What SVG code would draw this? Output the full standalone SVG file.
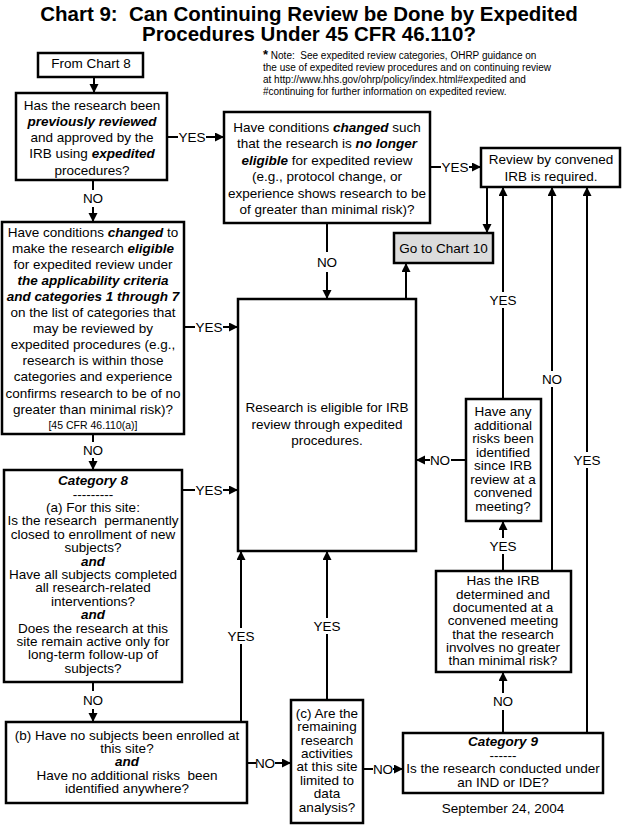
<svg xmlns="http://www.w3.org/2000/svg" width="623" height="825" viewBox="0 0 623 825">
<style>
text{font-family:"Liberation Sans",Arial,sans-serif;font-size:13.5px;fill:#000}
.c{text-anchor:middle}
.t{font-size:20.5px;font-weight:bold}
.bi{font-weight:bold;font-style:italic}
.sm{font-size:10.5px}
.note{font-size:10px}
.pre{white-space:pre}
.box{fill:#fff;stroke:#000;stroke-width:2.5}
.gray{fill:#dcdcdc;stroke:#000;stroke-width:2.5}
.ln{fill:none;stroke:#000;stroke-width:2}
.ar{fill:none;stroke:#000;stroke-width:2;marker-end:url(#ah)}
</style>
<defs>
<marker id="ah" markerUnits="userSpaceOnUse" markerWidth="10" markerHeight="10" refX="9" refY="4.5" orient="auto">
<path d="M0,0 L9,4.5 L0,9 Z" fill="#000"/>
</marker>
</defs>
<rect width="623" height="825" fill="#fff"/>
<text class="t c pre" x="309" y="21" xml:space="preserve">Chart 9:  Can Continuing Review be Done by Expedited</text>
<text class="t c" x="309" y="41">Procedures Under 45 CFR 46.110?</text>
<g id="note">
<text class="note pre" x="263" y="59" xml:space="preserve"><tspan font-size="13" font-weight="bold">*</tspan> Note:  See expedited review categories, OHRP guidance on</text>
<text class="note" x="263" y="71">the use of expedited review procedures and on continuing review</text>
<text class="note" x="263" y="83">at http://www.hhs.gov/ohrp/policy/index.html#expedited and</text>
<text class="note" x="263" y="95">#continuing for further information on expedited review.</text>
</g>
<g id="connectors">
<path class="ar" d="M94,77 V93"/>
<path class="ln" d="M93,180 V190"/><text class="c" x="93" y="203">NO</text><path class="ar" d="M93,207 V222"/>
<path class="ln" d="M167,137 H178"/><text class="c" x="192" y="142">YES</text><path class="ar" d="M206,137 H224"/>
<path class="ln" d="M327,223 V252"/><text class="c" x="327" y="267">NO</text><path class="ar" d="M327,272 V299"/>
<path class="ln" d="M430,167 H441"/><text class="c" x="455" y="172">YES</text><path class="ar" d="M469,167 H481"/>
<path class="ar" d="M487,187 V233"/>
<path class="ar" d="M406,299 V263"/>
<path class="ln" d="M184,327 H195"/><text class="c" x="209" y="332">YES</text><path class="ar" d="M223,327 H238"/>
<path class="ln" d="M93,434 V442"/><text class="c" x="93" y="455">NO</text><path class="ar" d="M93,458 V470"/>
<path class="ln" d="M182,490 H195"/><text class="c" x="209" y="495">YES</text><path class="ar" d="M223,490 H238"/>
<path class="ln" d="M93,682 V691"/><text class="c" x="93" y="705">NO</text><path class="ar" d="M93,709 V722"/>
<path class="ln" d="M241,722 V644"/><text class="c" x="241" y="641">YES</text><path class="ar" d="M241,628 V551"/>
<path class="ln" d="M247,763 H256"/><text class="c" x="265" y="768">NO</text><path class="ar" d="M275,763 H291"/>
<path class="ln" d="M327,700 V634"/><text class="c" x="327" y="631">YES</text><path class="ar" d="M327,618 V551"/>
<path class="ln" d="M363,769 H373"/><text class="c" x="383" y="774">NO</text><path class="ar" d="M393,769 H403"/>
<path class="ln" d="M503,733 V710"/><text class="c" x="503" y="706">NO</text><path class="ar" d="M503,693 V672"/>
<path class="ln" d="M587,733 V468"/><text class="c" x="587" y="465">YES</text><path class="ar" d="M587,452 V187"/>
<path class="ln" d="M503,571 V554"/><text class="c" x="503" y="551">YES</text><path class="ar" d="M503,538 V521"/>
<path class="ln" d="M552,571 V387"/><text class="c" x="552" y="384">NO</text><path class="ar" d="M552,371 V187"/>
<path class="ln" d="M503,399 V308"/><text class="c" x="503" y="305">YES</text><path class="ar" d="M503,292 V187"/>
<path class="ln" d="M466,460 H451"/><text class="c" x="440" y="465">NO</text><path class="ar" d="M430,460 H416"/>
</g>
<g id="from8">
<rect class="box" x="38" y="53" width="105" height="24"/>
<text class="c" x="91" y="68">From Chart 8</text>
</g>
<g id="prev">
<rect class="box" x="16" y="93" width="151" height="87"/>
<text class="c" x="92" y="109.5">Has the research been</text>
<text class="c bi" x="92" y="125.8">previously reviewed</text>
<text class="c" x="92" y="142.1">and approved by the</text>
<text class="c" x="92" y="158.4">IRB using <tspan class="bi">expedited</tspan></text>
<text class="c" x="92" y="174.7">procedures?</text>
</g>
<g id="nolonger">
<rect class="box" x="224" y="112" width="206" height="111"/>
<text class="c" x="327" y="131.5">Have conditions <tspan class="bi">changed</tspan> such</text>
<text class="c" x="327" y="148">that the research is <tspan class="bi">no longer</tspan></text>
<text class="c" x="327" y="164.5"><tspan class="bi">eligible</tspan> for expedited review</text>
<text class="c" x="327" y="181">(e.g., protocol change, or</text>
<text class="c" x="327" y="197.5">experience shows research to be</text>
<text class="c" x="327" y="214">of greater than minimal risk)?</text>
</g>
<g id="convened">
<rect class="box" x="481" y="148" width="139" height="39"/>
<text class="c" x="551" y="164">Review by convened</text>
<text class="c" x="551" y="180.5">IRB is required.</text>
</g>
<g id="chart10">
<rect class="gray" x="394" y="233" width="99" height="30"/>
<text class="c" x="443.5" y="252.5">Go to Chart 10</text>
</g>
<g id="eligible">
<rect class="box" x="2" y="222" width="182" height="212"/>
<text class="c" x="93" y="237.2">Have conditions <tspan class="bi">changed</tspan> to</text>
<text class="c" x="93" y="253.2">make the research <tspan class="bi">eligible</tspan></text>
<text class="c" x="93" y="269.2">for expedited review under</text>
<text class="c bi" x="93" y="285.3">the applicability criteria</text>
<text class="c bi" x="93" y="301.3">and categories 1 through 7</text>
<text class="c" x="93" y="317.3">on the list of categories that</text>
<text class="c" x="93" y="333.3">may be reviewed by</text>
<text class="c" x="93" y="349.4">expedited procedures (e.g.,</text>
<text class="c" x="93" y="365.4">research is within those</text>
<text class="c" x="93" y="381.4">categories and experience</text>
<text class="c" x="93" y="397.5">confirms research to be of no</text>
<text class="c" x="93" y="413.5">greater than minimal risk)?</text>
<text class="c sm" x="93" y="429">[45 CFR 46.110(a)]</text>
</g>
<g id="expedited">
<rect class="box" x="238" y="299" width="178" height="252"/>
<text class="c" x="327" y="412">Research is eligible for IRB</text>
<text class="c" x="327" y="428.5">review through expedited</text>
<text class="c" x="327" y="445">procedures.</text>
</g>
<g id="risks">
<rect class="box" x="466" y="399" width="75" height="122"/>
<text class="c" x="503" y="416.2">Have any</text>
<text class="c" x="503" y="429.7">additional</text>
<text class="c" x="503" y="443.1">risks been</text>
<text class="c" x="503" y="456.6">identified</text>
<text class="c" x="503" y="470.1">since IRB</text>
<text class="c" x="503" y="483.5">review at a</text>
<text class="c" x="503" y="497">convened</text>
<text class="c" x="503" y="510.5">meeting?</text>
</g>
<g id="cat8">
<rect class="box" x="4" y="470" width="178" height="212"/>
<text class="c bi" x="93" y="485.2">Category 8</text>
<text class="c" x="93" y="498.6">---------</text>
<text class="c" x="93" y="512">(a) For this site:</text>
<text class="c pre" x="93" y="525.4" xml:space="preserve">Is the research  permanently</text>
<text class="c" x="93" y="538.8">closed to enrollment of new</text>
<text class="c" x="93" y="552.2">subjects?</text>
<text class="c bi" x="93" y="565.6">and</text>
<text class="c" x="93" y="579">Have all subjects completed</text>
<text class="c" x="93" y="592.4">all research-related</text>
<text class="c" x="93" y="605.8">interventions?</text>
<text class="c bi" x="93" y="619.2">and</text>
<text class="c" x="93" y="632.6">Does the research at this</text>
<text class="c" x="93" y="646">site remain active only for</text>
<text class="c" x="93" y="659.4">long-term follow-up of</text>
<text class="c" x="93" y="672.8">subjects?</text>
</g>
<g id="irbdet">
<rect class="box" x="436" y="571" width="135" height="101"/>
<text class="c" x="503" y="585.2">Has the IRB</text>
<text class="c" x="503" y="598.5">determined and</text>
<text class="c" x="503" y="611.9">documented at a</text>
<text class="c" x="503" y="625.2">convened meeting</text>
<text class="c" x="503" y="638.5">that the research</text>
<text class="c" x="503" y="651.9">involves no greater</text>
<text class="c" x="503" y="665.2">than minimal risk?</text>
</g>
<g id="b">
<rect class="box" x="6" y="722" width="241" height="81"/>
<text class="c" x="127" y="739.5">(b) Have no subjects been enrolled at</text>
<text class="c" x="127" y="752.8">this site?</text>
<text class="c bi" x="127" y="766.2">and</text>
<text class="c pre" x="127" y="779.5" xml:space="preserve">Have no additional risks  been</text>
<text class="c" x="127" y="792.8">identified anywhere?</text>
</g>
<g id="c">
<rect class="box" x="291" y="700" width="72" height="123"/>
<text class="c" x="327" y="717.8">(c) Are the</text>
<text class="c" x="327" y="731.2">remaining</text>
<text class="c" x="327" y="744.6">research</text>
<text class="c" x="327" y="758">activities</text>
<text class="c" x="327" y="771.4">at this site</text>
<text class="c" x="327" y="784.8">limited to</text>
<text class="c" x="327" y="798.2">data</text>
<text class="c" x="327" y="811.6">analysis?</text>
</g>
<g id="cat9">
<rect class="box" x="403" y="733" width="200" height="60"/>
<text class="c bi" x="503" y="746.2">Category 9</text>
<text class="c" x="503" y="759.5">------</text>
<text class="c" x="503" y="773">Is the research conducted under</text>
<text class="c" x="503" y="786.5">an IND or IDE?</text>
</g>
<text class="c" x="503" y="813">September 24, 2004</text>
</svg>
